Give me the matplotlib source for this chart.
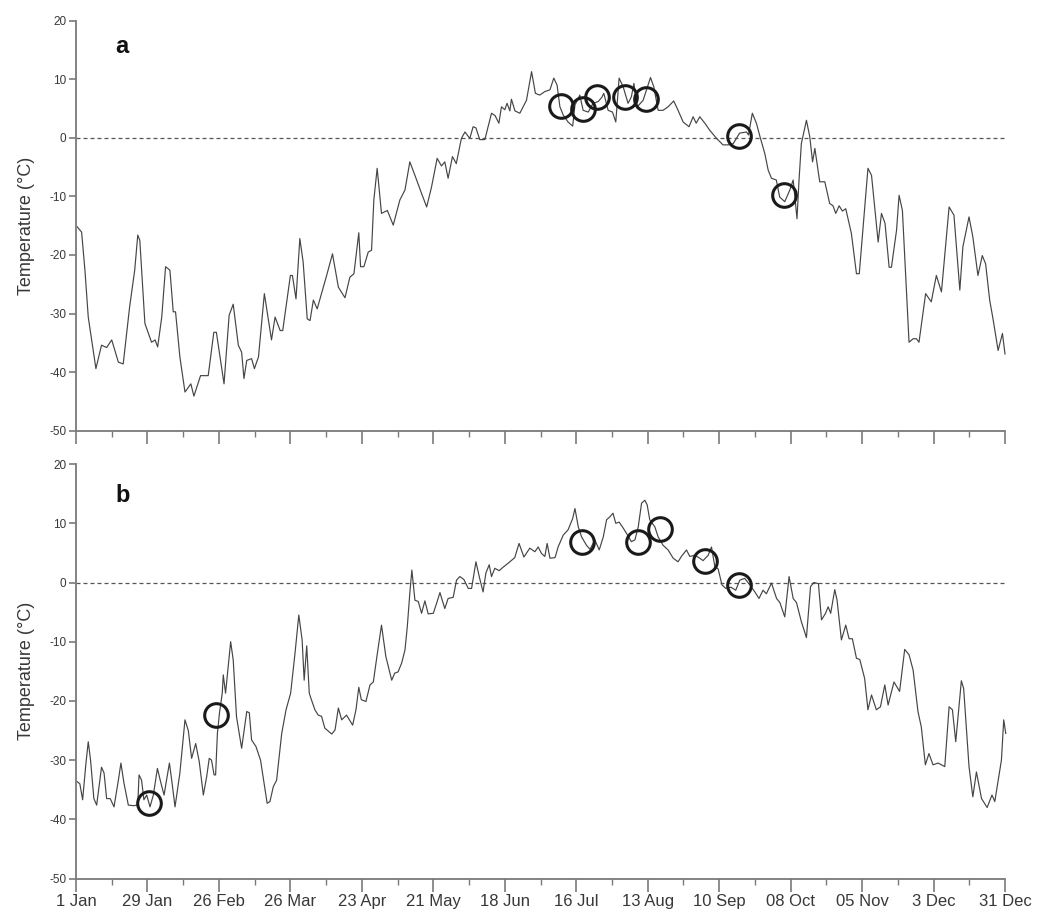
import matplotlib
matplotlib.use("Agg")
import matplotlib.pyplot as plt
import numpy as np

plt.rcParams['font.family'] = ['Liberation Sans', 'DejaVu Sans']
plt.rcParams['axes.unicode_minus'] = False

# ---- Panel a: day of year (0 = 1 Jan) and temperature (°C)
days_a = [0.5, 2.2, 3.5, 4.8, 7.8, 10, 12, 14, 16.6, 18.5, 21, 23, 24.2, 25, 27, 29.6, 31, 32,
          33.6, 35.1, 36.8, 38.1, 39, 40.7, 42.7, 45, 46.2, 48.8, 51.8, 54, 55, 58, 60, 61.6,
          63.6, 64.9, 65.8, 66.9, 68.8, 69.9, 71.5, 73.8, 76.6, 78, 80, 81, 84, 84.8, 86.2,
          87.7, 89, 90.6, 91.7, 93, 94.5, 98.2, 100.5, 102.8, 105.4, 107.3, 108.9, 110.8,
          111.5, 112.8, 114.5, 115.8, 116.7, 118, 119.7, 122, 124.3, 126.9, 128.9, 130.8,
          132.8, 135.4, 137.4, 139.3, 141.5, 143.2, 144.5, 145.8, 147.5, 149, 151, 152.4,
          154.3, 155.6, 156.7, 158.2, 160.2, 162.8, 164.2, 165.7, 166.7, 168, 168.9, 170,
          170.6, 172, 173.9, 176.5, 178.5, 180, 181.7, 183.7, 185.7, 187.2, 188.5, 189.6,
          190.9, 192.8, 194.6, 195.5, 197.4, 198.7, 200.7, 202.6, 204.6, 206, 206.8, 208.5,
          210.2, 211.5, 212.8, 214.4, 216.3, 217.6, 218.6, 219.9, 222.2, 225.1, 226.4, 228.1,
          230, 232, 234.2, 235.9, 237.9, 240.2, 241.8, 243, 244.4, 246.4, 248.3, 251, 253.5,
          255.5, 257.5, 260, 262.7, 263.5, 265, 266.6, 268, 269.9, 271.2, 272.5, 274.4, 275.7,
          277.7, 279.7, 281, 282.5, 283.3, 284.2, 286.2, 287.5, 288.6, 289.5, 291.4, 293.4,
          295.3, 296.6, 297.7, 299, 300.3, 301.6, 303.8, 305.8, 306.9, 308.4, 310.3, 311.7,
          314.3, 315.6, 317, 318.6, 319.5, 321.5, 322.5, 323.8, 326.4, 328, 329.3, 330.3,
          332.9, 335.1, 337.1, 339.1, 342.1, 344, 346.3, 347.5, 349.9, 351.4, 353.4, 355.1,
          356.4, 358, 359.3, 361.3, 363, 364]
temp_a = [-15.2, -16.1, -22.6, -30.6, -39.4, -35.4, -35.8, -34.5, -38.3, -38.6, -28.9, -22.6,
          -16.6, -17.5, -31.7, -34.9, -34.5, -35.7, -30.6, -22.0, -22.6, -29.7, -29.7, -37.4,
          -43.4, -42.0, -44.1, -40.6, -40.6, -33.2, -33.2, -42.0, -30.3, -28.4, -35.4, -36.6,
          -41.1, -38.0, -37.7, -39.4, -37.4, -26.6, -34.5, -30.6, -32.9, -32.9, -23.5, -23.5,
          -27.5, -17.2, -21.2, -30.9, -31.2, -27.7, -29.2, -23.5, -19.8, -25.5, -27.3, -23.8,
          -23.2, -16.2, -22.0, -22.0, -19.5, -19.2, -10.6, -5.2, -12.9, -12.4, -14.9, -10.6,
          -8.9, -4.1, -6.4, -9.5, -11.8, -8.4, -3.5, -4.8, -4.1, -6.9, -3.2, -4.4, -0.1, 1.0,
          -0.1, 1.9, 1.7, -0.3, -0.3, 4.2, 3.8, 2.5, 5.3, 4.8, 5.9, 4.6, 6.6, 4.6, 4.2, 6.4,
          11.3, 7.6, 7.3, 7.9, 8.2, 10.2, 9.0, 5.3, 3.9, 2.7, 2.0, 5.6, 7.3, 4.7, 4.4, 5.9,
          6.2, 6.9, 7.6, 4.7, 4.4, 2.7, 10.2, 8.7, 5.9, 7.0, 9.3, 5.3, 6.4, 10.3, 8.7, 4.7,
          4.7, 5.3, 6.3, 4.7, 2.7, 1.9, 3.6, 2.5, 3.6, 2.5, 1.3, -0.1, -1.2, -1.2, -1.0, 0.8,
          1.0, 0.5, 4.2, 2.5, 0.2, -2.7, -5.5, -6.9, -7.2, -10.1, -10.9, -8.9, -7.2, -13.8,
          -7.2, -1.0, 3.0, 0.2, -4.1, -1.8, -7.5, -7.5, -11.2, -11.6, -12.9, -11.6, -12.5,
          -12.1, -16.3, -23.2, -23.2, -15.2, -5.2, -6.4, -17.8, -12.9, -14.6, -22.1, -22.1,
          -15.8, -9.8, -12.4, -34.9, -34.3, -34.3, -34.9, -26.6, -28.0, -23.5, -26.3, -11.8,
          -13.2, -26.0, -18.6, -13.5, -16.9, -23.5, -20.1, -21.5, -27.7, -30.9, -36.3, -33.4,
          -36.9]
circle_days_a = [190.2, 198.7, 204.3, 215.3, 223.2, 259.8, 277.4]
circle_temp_a = [5.5, 4.9, 6.9, 6.9, 6.7, 0.3, -9.7]

# ---- Panel b
days_b = [0.3, 1.5, 2.6, 3.9, 4.8, 5.7, 7, 8.1, 10, 11, 12, 13.4, 14.9, 16.6, 17.6, 18.8, 20.5,
          22.5, 24.2, 24.7, 25.7, 26.6, 27.7, 29, 30.3, 31.9, 33, 34.5, 36.6, 37.5, 38.8, 40.7,
          42.7, 44, 45.3, 46.9, 48.3, 49.9, 51.2, 52.2, 53.1, 54.1, 54.7, 55.4, 56.2, 57.3,
          57.7, 58.6, 60.6, 61.6, 62.9, 64.9, 66.9, 67.9, 68.8, 70.5, 72.3, 73.5, 74.9, 76,
          77.3, 78.6, 80.6, 82.3, 84.1, 85.8, 87.3, 88.6, 89.4, 90.4, 91.4, 92, 93.6, 94.9,
          96.2, 97.5, 100.2, 101.5, 102.8, 104.1, 106, 108.4, 109.7, 110.8, 111.8, 113.6,
          115.2, 116.5, 118, 119.7, 121.4, 123.7, 124.9, 126.2, 127.6, 128.9, 129.8, 130.8,
          131.6, 132.8, 134.1, 135.4, 136.7, 138, 140, 141.3, 142.6, 144.5, 145.8, 147.8,
          149.1, 150.4, 152, 153.7, 155, 156.7, 158, 159.5, 160.6, 161.9, 162.8, 164.1, 165.8,
          167.4, 170, 171.9, 173.6, 175.5, 177.8, 179.8, 181.1, 182.4, 183.7, 184.6, 185.7,
          187.7, 188.9, 190.9, 192.8, 194.6, 195.5, 196.8, 198.1, 200, 201.4, 203.3, 205,
          206.6, 207.9, 209.2, 210.4, 211.5, 212.8, 214.1, 215.7, 217.6, 219, 220.3, 221.6,
          222.9, 223.8, 224.8, 226.8, 228.1, 230, 232, 234, 235.9, 237.2, 239.2, 240.5, 242.5,
          244.4, 245.7, 247.7, 249, 250.3, 251.6, 253.1, 254.6, 256.6, 258.5, 260.1, 262, 264,
          266, 267.6, 269.2, 270.5, 272.5, 274.5, 275.8, 277.7, 279.4, 281, 282.3, 284.2,
          286.2, 287.8, 289.1, 290.9, 292.1, 293.7, 294.7, 295.7, 297.3, 298.2, 299.9, 301.6,
          302.9, 304.2, 305.8, 307.1, 309, 310.3, 311.7, 313.6, 315.2, 316.9, 318.2, 320.5,
          322.7, 324.7, 326.4, 328, 329.9, 331.2, 332.8, 334.2, 335.8, 337.8, 340.4, 342.1,
          343.4, 344.7, 346.9, 347.8, 349.9, 351.4, 352.8, 354.8, 357, 358.9, 360, 362.6,
          363.5, 364.3]
temp_b = [-33.6, -34.0, -36.7, -30.5, -26.9, -30.0, -36.5, -37.6, -31.2, -32.2, -36.5, -36.5,
          -37.9, -33.4, -30.5, -33.9, -37.6, -37.7, -37.6, -32.5, -33.4, -36.7, -35.9, -37.9,
          -35.9, -31.4, -33.4, -35.9, -30.5, -33.4, -37.9, -32.2, -23.2, -25.0, -29.7, -27.2,
          -30.3, -35.9, -32.8, -29.7, -30.0, -32.5, -32.5, -25.5, -22.1, -18.7, -15.6, -18.7,
          -10.0, -13.1, -22.7, -28.0, -21.8, -22.0, -26.6, -27.7, -30.0, -33.4, -37.3, -37.0,
          -34.5, -33.4, -25.5, -21.5, -18.7, -12.0, -5.5, -9.7, -16.5, -10.7, -18.7, -19.5,
          -21.5, -22.4, -22.6, -24.6, -25.6, -24.9, -21.2, -23.2, -22.4, -24.1, -21.5, -17.7,
          -19.8, -20.1, -17.3, -16.8, -12.2, -7.2, -12.5, -16.5, -15.3, -15.1, -13.6, -11.4,
          -7.5, -1.8, 2.1, -3.0, -3.2, -5.2, -3.1, -5.3, -5.2, -3.5, -1.7, -4.4, -2.7, -2.5,
          0.4, 1.0, 0.5, -1.0, -1.0, 3.5, 1.0, -1.6, 1.6, 3.0, 1.0, 2.4, 2.0, 2.6, 3.5, 4.2,
          6.6, 4.3, 5.8, 5.2, 6.0, 4.9, 4.4, 6.6, 4.1, 4.2, 6.0, 8.0, 8.9, 10.8, 12.5, 9.4,
          7.7, 6.3, 5.6, 7.2, 5.5, 7.7, 10.6, 11.1, 11.7, 10.0, 10.2, 9.4, 8.3, 6.9, 7.2, 9.4,
          13.4, 13.9, 13.1, 10.6, 9.4, 7.7, 6.3, 5.5, 4.1, 3.5, 4.4, 5.5, 4.4, 4.6, 4.1, 3.7,
          4.6, 6.0, 2.7, 2.3, -0.4, -1.0, -0.8, -1.3, 0.4, 0.7, -0.4, -1.6, -2.7, -1.3, -1.9,
          -0.1, -2.7, -3.4, -5.8, 1.0, -2.7, -3.4, -6.6, -9.3, -0.7, 0.0, -0.2, -6.3, -5.2,
          -4.1, -5.2, -1.2, -3.0, -9.7, -7.2, -9.5, -9.5, -12.8, -13.0, -16.2, -21.5, -19.0,
          -21.5, -21.0, -17.3, -20.7, -16.8, -18.4, -11.3, -12.2, -14.8, -21.8, -24.4, -30.8,
          -28.9, -30.8, -30.5, -31.1, -21.0, -21.5, -26.9, -16.6, -17.9, -31.1, -36.2, -32.0,
          -36.5, -38.0, -35.9, -37.0, -30.0, -23.2, -25.5]
circle_days_b = [28.7, 54.7, 198.3, 220.3, 229.0, 246.4, 259.8]
circle_temp_b = [-37.2, -22.4, 6.9, 6.8, 9.0, 3.7, -0.4]

tick_days = [0, 28, 56, 84, 112, 140, 168, 196, 224, 252, 280, 308, 336, 364]
tick_labels = ['1 Jan', '29 Jan', '26 Feb', '26 Mar', '23 Apr', '21 May', '18 Jun',
               '16 Jul', '13 Aug', '10 Sep', '08 Oct', '05 Nov', '3 Dec', '31 Dec']
y_ticks = [-50, -40, -30, -20, -10, 0, 10, 20]

W, H = 1038, 919
fig = plt.figure(figsize=(W / 100, H / 100), dpi=100)

def px_axes(x0, x1, ytop, ybot):
    return fig.add_axes([x0 / W, 1 - ybot / H, (x1 - x0) / W, (ybot - ytop) / H])

ax_a = px_axes(76, 1005, 20.7, 430.7)
ax_b = px_axes(76, 1005, 464.1, 878.5)

spine_col = '#7a7a7a'
line_col = '#454545'
text_col = '#383838'

panels = [(ax_a, days_a, temp_a, circle_days_a, circle_temp_a, 'a', 0.936, False),
          (ax_b, days_b, temp_b, circle_days_b, circle_temp_b, 'b', 0.925, True)]

for ax, d, t, cd, ct, lab, ly, show_x in panels:
    ax.axhline(0, color='#555555', lw=0.9, ls=(0, (3.2, 2.4)), zorder=1)
    ax.plot(d, t, color=line_col, lw=0.85, zorder=2, clip_on=False)
    ax.plot(cd, ct, linestyle='none', marker='o', ms=17, mfc='none', mec='#1a1a1a',
            mew=2.2, zorder=3)
    ax.set_xlim(0, 364)
    ax.set_ylim(-50, 20)
    ax.set_yticks(y_ticks)
    ax.set_yticklabels([str(v) for v in y_ticks])
    ax.set_xticks(tick_days)
    ax.set_xticks([v + 14 for v in tick_days[:-1]], minor=True)
    if show_x:
        ax.set_xticklabels(tick_labels)
    else:
        ax.set_xticklabels([])
    for s in ['top', 'right']:
        ax.spines[s].set_visible(False)
    for s in ['left', 'bottom']:
        ax.spines[s].set_color(spine_col)
        ax.spines[s].set_linewidth(1.3)
    ax.tick_params(axis='y', which='major', length=5, width=1.2, color=spine_col,
                   labelsize=8.5, labelcolor=text_col, pad=2)
    ax.tick_params(axis='x', which='major', length=9, width=1.2, color=spine_col,
                   labelsize=12, labelcolor=text_col, pad=2)
    ax.tick_params(axis='x', which='minor', length=4, width=1.0, color=spine_col)
    ax.set_ylabel('Temperature (°C)', fontsize=13, color=text_col, labelpad=10)
    ax.text(0.042, ly, lab, transform=ax.transAxes, fontsize=17, fontweight='bold',
            color='#111111', ha='left', va='center')

fig.savefig('out.png', dpi=100, facecolor='white')
